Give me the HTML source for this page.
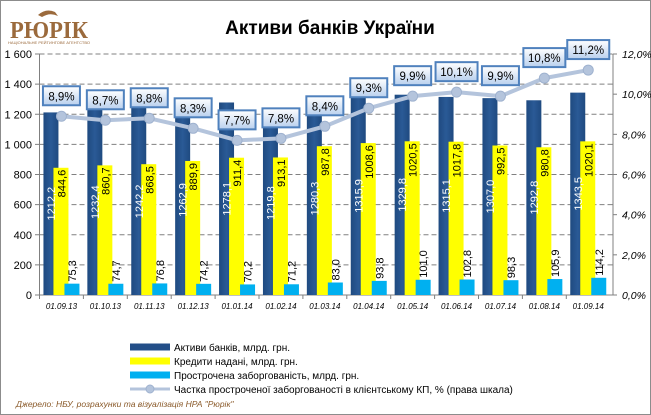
<!DOCTYPE html>
<html><head><meta charset="utf-8"><style>
html,body{margin:0;padding:0;background:#fff}
svg{display:block;font-family:"Liberation Sans",sans-serif}
</style></head><body>
<svg id="s" width="651" height="415" viewBox="0 0 651 415" xmlns="http://www.w3.org/2000/svg">
<defs>
<linearGradient id="bx" x1="0" y1="0" x2="0" y2="1"><stop offset="0" stop-color="#ffffff"/><stop offset="1" stop-color="#b9d0ee"/></linearGradient>
<linearGradient id="bl" x1="0" y1="0" x2="1" y2="0"><stop offset="0" stop-color="#1f4a80"/><stop offset="0.5" stop-color="#2a5a96"/><stop offset="1" stop-color="#1f4a80"/></linearGradient>
</defs>
<rect x="0.5" y="0.5" width="650" height="414" fill="#fff" stroke="#8c8c8c"/>
<text x="10" y="38" font-family="Liberation Serif,serif" font-size="24" font-weight="bold" fill="#9b6a3c" textLength="78" lengthAdjust="spacingAndGlyphs">РЮРІК</text>
<text x="8" y="44" font-size="3.5" fill="#9b6a3c" textLength="82" lengthAdjust="spacingAndGlyphs">НАЦІОНАЛЬНЕ РЕЙТИНГОВЕ АГЕНТСТВО</text>
<path d="M38 15 Q46 8 55 12 L58 16 Q50 12 42 17 Z" fill="#9b6a3c"/>
<text x="330" y="34" font-size="19" font-weight="bold" text-anchor="middle" fill="#000">Активи банків України</text>
<g id="g"></g>
<text x="16" y="407" font-size="8.5" font-style="italic" fill="#8a5a2a">Джерело: НБУ, розрахунки  та  візуалізація НРА "Рюрік"</text>
</svg>
<script>
const g=document.getElementById('g');let h='';
const A=[1212.2,1232.4,1242.2,1262.9,1278.1,1219.8,1280.3,1315.9,1329.8,1315.1,1307.0,1292.8,1343.5];
const L=[844.6,860.7,868.5,889.9,911.4,913.1,987.8,1008.6,1020.5,1017.8,992.5,980.8,1020.1];
const O=[75.3,74.7,76.8,74.2,70.2,71.2,83.0,93.8,101.0,102.8,98.3,105.9,114.2];
const P=[8.9,8.7,8.8,8.3,7.7,7.8,8.4,9.3,9.9,10.1,9.9,10.8,11.2];
const D=['01.09.13','01.10.13','01.11.13','01.12.13','01.01.14','01.02.14','01.03.14','01.04.14','01.05.14','01.06.14','01.07.14','01.08.14','01.09.14'];
const y0=295,k=241/1600,x0=39.5,w=43.9;
const f=v=>v.toFixed(1).replace('.',',');
const fa=v=>{let s=f(v);return s.length>6?s[0]+' '+s.slice(1):s};
for(let i=0;i<=8;i++){const y=y0-i*200*k;
 if(i>0)h+=`<line x1="${x0}" y1="${y}" x2="613" y2="${y}" stroke="#808080" stroke-dasharray="5,3" stroke-width="1"/>`;
 h+=`<line x1="35" y1="${y}" x2="${x0}" y2="${y}" stroke="#808080"/>`;
 const t=i*200;h+=`<text x="32" y="${y+4}" font-size="11" text-anchor="end">${t>=1000?String(t)[0]+' '+String(t).slice(1):t}</text>`;}
for(let i=0;i<=6;i++){const y=y0-i*241/6;
 h+=`<line x1="613" y1="${y}" x2="617" y2="${y}" stroke="#808080"/>`;
 h+=`<text x="622" y="${y+4}" font-size="10.5" font-style="italic">${(i*2).toFixed(1).replace('.',',')}%</text>`;}
h+=`<line x1="${x0}" y1="54" x2="${x0}" y2="${y0}" stroke="#808080"/><line x1="613" y1="54" x2="613" y2="${y0}" stroke="#808080"/><line x1="${x0}" y1="${y0}" x2="613" y2="${y0}" stroke="#808080"/>`;
let pts=[];
for(let i=0;i<13;i++){const c=x0+w*(i+0.5);
 h+=`<line x1="${x0+w*i}" y1="${y0}" x2="${x0+w*i}" y2="${y0+4}" stroke="#808080"/>`;
 const ya=y0-A[i]*k,yl=y0-L[i]*k,yo=y0-O[i]*k;
 h+=`<rect x="${c-18}" y="${ya}" width="15" height="${y0-ya}" fill="url(#bl)"/>`;
 h+=`<rect x="${c-8}" y="${yl}" width="15" height="${y0-yl}" fill="#ffff00"/>`;
 h+=`<rect x="${c+3}" y="${yo}" width="15" height="${y0-yo}" fill="#00b0f0"/>`;
 const my=(ya+y0)/2;
 h+=`<text transform="translate(${c-6.5},${my}) rotate(-90)" font-size="11" fill="#fff" text-anchor="middle">${fa(A[i])}</text>`;
 h+=`<text transform="translate(${c+4},${yl+2}) rotate(-90)" font-size="11" fill="#000" text-anchor="end">${f(L[i])}</text>`;
 h+=`<text transform="translate(${c+14.5},${yo-2}) rotate(-90)" font-size="11" fill="#000">${f(O[i])}</text>`;
 h+=`<text x="${c}" y="309" font-size="8" font-style="italic" text-anchor="middle">${D[i]}</text>`;
 pts.push([c,y0-P[i]*241/12]);}
h+=`<polyline points="${pts.map(p=>p.join(',')).join(' ')}" fill="none" stroke="#b4c4dc" stroke-width="4" stroke-linejoin="round"/>`;
pts.forEach((p,i)=>{h+=`<circle cx="${p[0]}" cy="${p[1]}" r="5" fill="#b4c4dc" stroke="#9fb2cf"/>`;
 const bw=P[i]>=10?42:37;
 h+=`<rect x="${p[0]-bw/2}" y="${p[1]-30}" width="${bw}" height="19" fill="url(#bx)" stroke="#4f81bd" stroke-width="2"/>`;
 h+=`<text x="${p[0]}" y="${p[1]-16}" font-size="11.5" text-anchor="middle">${f(P[i])}%</text>`;});
const lg=[['#234f88','Активи банків, млрд. грн.'],['#ffff00','Кредити надані, млрд. грн.'],['#00b0f0','Прострочена заборгованість, млрд. грн.']];
lg.forEach((l,i)=>{const y=347+i*14;h+=`<rect x="130" y="${y-3.5}" width="40" height="7" fill="${l[0]}"/><text x="174" y="${y+4}" font-size="10">${l[1]}</text>`;});
h+=`<line x1="130" y1="389" x2="170" y2="389" stroke="#b4c4dc" stroke-width="3"/><circle cx="150" cy="389" r="4" fill="#b4c4dc" stroke="#9fb2cf"/><text x="174" y="393" font-size="10">Частка простроченої заборгованості в клієнтському КП, % (права шкала)</text>`;
g.innerHTML=h;
</script>
</body></html>
